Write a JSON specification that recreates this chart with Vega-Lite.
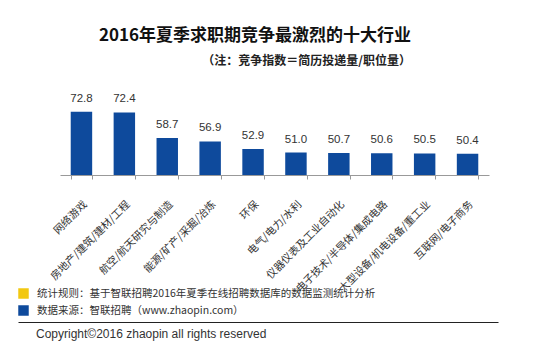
{
  "$schema": "https://vega.github.io/schema/vega-lite/v6.json",
  "background": "white",
  "padding": {"left": 15, "top": 26, "right": 5, "bottom": 5},
  "config": {"view": {"stroke": null}},
  "title": {
    "text": "2016年夏季求职期竞争最激烈的十大行业",
    "subtitle": "（注：竞争指数＝简历投递量/职位量）",
    "anchor": "end",
    "frame": "group",
    "dx": -78,
    "font": "Noto Sans CJK SC",
    "fontSize": 17,
    "fontWeight": "bold",
    "color": "#111",
    "subtitleFont": "Noto Sans CJK SC",
    "subtitleFontSize": 12,
    "subtitleFontWeight": "bold",
    "subtitleColor": "#222",
    "subtitlePadding": 11,
    "offset": 25
  },
  "bounds": "flush",
  "spacing": 147,
  "resolve": {"scale": {"color": "independent", "x": "independent"}, "legend": {"color": "independent"}},
  "vconcat": [
    {
      "width": 429,
      "height": 75,
      "data": {"values": [
        {"industry": "网络游戏", "value": 72.8},
        {"industry": "房地产/建筑/建材/工程", "value": 72.4},
        {"industry": "航空/航天研究与制造", "value": 58.7},
        {"industry": "能源/矿产/采掘/冶炼", "value": 56.9},
        {"industry": "环保", "value": 52.9},
        {"industry": "电气/电力/水利", "value": 51.0},
        {"industry": "仪器仪表及工业自动化", "value": 50.7},
        {"industry": "电子技术/半导体/集成电路", "value": 50.6},
        {"industry": "大型设备/机电设备/重工业", "value": 50.5},
        {"industry": "互联网/电子商务", "value": 50.4}
      ]},
      "encoding": {
        "x": {
          "field": "industry", "type": "nominal", "sort": null,
          "scale": {"paddingInner": 0.5, "paddingOuter": 0.25},
          "axis": {
            "title": null, "labelAngle": -45, "labelAlign": "right", "labelBaseline": "top",
            "tickBand": "extent", "domainColor": "#999", "tickColor": "#999", "tickSize": 4,
            "labelPadding": 20, "labelFontSize": 10.5, "labelColor": "#333",
            "labelFont": "Noto Sans CJK SC", "labelLimit": 300
          }
        },
        "y": {"field": "value", "type": "quantitative", "scale": {"domain": [39, 79], "zero": false}, "axis": null}
      },
      "layer": [
        {"mark": {"type": "bar", "color": "#0e4a9c", "clip": true}},
        {
          "mark": {"type": "text", "baseline": "bottom", "dy": -8, "font": "Liberation Sans", "fontSize": 11.5, "color": "#333"},
          "encoding": {"text": {"field": "value", "type": "quantitative", "format": ".1f"}}
        }
      ]
    },
    {
      "width": 429,
      "height": 1,
      "title": {
        "text": "Copyright©2016 zhaopin all rights reserved",
        "orient": "bottom", "anchor": "start", "frame": "group", "dx": -24, "offset": 4,
        "font": "Liberation Sans", "fontSize": 12, "fontWeight": "normal", "color": "#333"
      },
      "data": {"values": [
        {"item": "统计规则：基于智联招聘2016年夏季在线招聘数据库的数据监测统计分析", "pos": 0},
        {"item": "数据来源：智联招聘（www.zhaopin.com）", "pos": 1}
      ]},
      "mark": {"type": "square", "filled": true, "opacity": 0},
      "encoding": {
        "x": {
          "field": "pos", "type": "quantitative",
          "scale": {"domain": [0, 1], "range": [-42, 438], "nice": false, "zero": false},
          "axis": {"orient": "top", "title": null, "labels": false, "ticks": false, "grid": false, "domainColor": "#222", "domainWidth": 1.2}
        },
        "color": {
          "field": "item", "type": "nominal",
          "scale": {
            "domain": ["统计规则：基于智联招聘2016年夏季在线招聘数据库的数据监测统计分析", "数据来源：智联招聘（www.zhaopin.com）"],
            "range": ["#f2c811", "#0e4a9c"]
          },
          "legend": {
            "orient": "none", "legendX": -42, "legendY": -34, "direction": "vertical", "title": null,
            "symbolType": "square", "symbolSize": 110, "symbolOpacity": 1, "symbolStrokeWidth": 0,
            "labelFontSize": 10.5, "labelColor": "#333", "labelFont": "Noto Sans CJK SC",
            "labelOffset": 8, "rowPadding": 6, "labelLimit": 500
          }
        }
      }
    }
  ]
}
